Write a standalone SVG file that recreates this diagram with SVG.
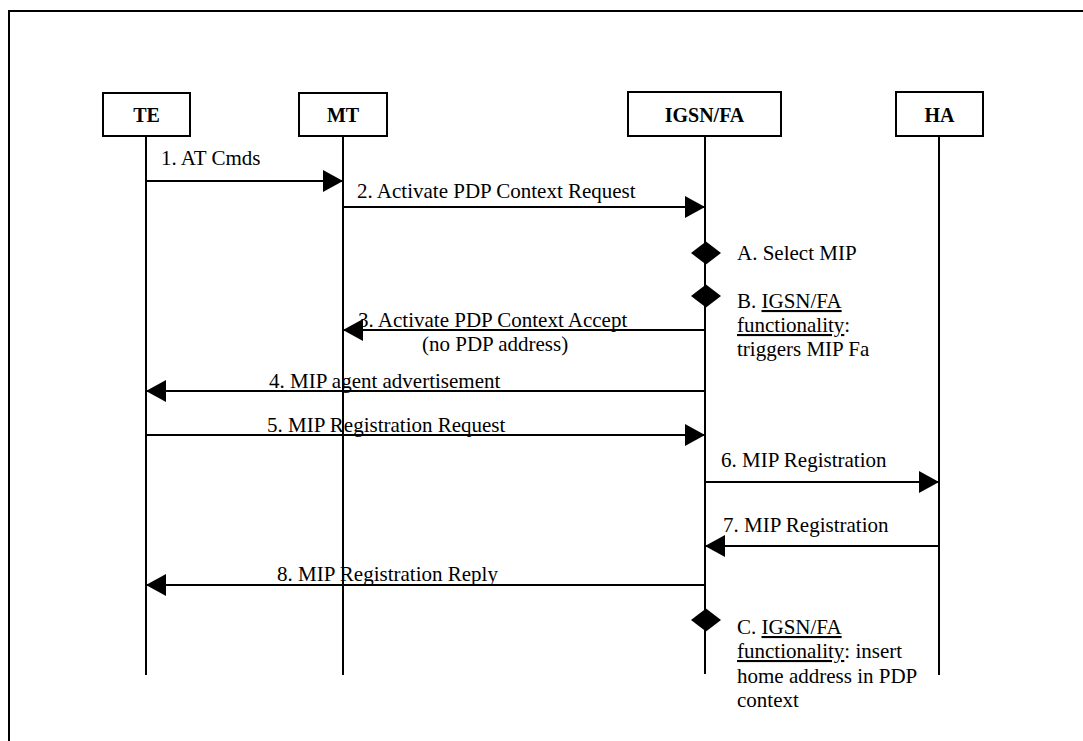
<svg xmlns="http://www.w3.org/2000/svg" width="1083" height="741" viewBox="0 0 1083 741">
  <style>
    .frame { fill: none; stroke: #000; stroke-width: 2; }
    .box { fill: #fff; stroke: #000; stroke-width: 2; }
    .life { stroke: #000; stroke-width: 2; fill: none; }
    .msg { stroke: #000; stroke-width: 2; fill: none; marker-end: url(#head); }
    text { font-family: 'Liberation Serif', Tinos, 'Times New Roman', Times, 'DejaVu Serif', serif; fill: #000; }
    .hdr { font-size: 20px; font-weight: bold; text-anchor: middle; }
    .lbl { font-size: 21px; }
    .u { text-decoration: underline; }
    .dia { fill: #000; }
  </style>
  <defs>
    <marker id="head" markerUnits="userSpaceOnUse" markerWidth="22" markerHeight="24" refX="20" refY="11" orient="auto">
      <path d="M0,0 L20,11 L0,22 Z" fill="#000"/>
    </marker>
  </defs>
  <rect width="1083" height="741" fill="#fff"/>

  <!-- outer frame (top and left edges) -->
  <path class="frame" d="M9,741 L9,11 L1083,11"/>

  <!-- participants -->
  <g id="node-te">
    <line class="life" x1="146" y1="136" x2="146" y2="675"/>
    <rect class="box" x="103" y="93" width="87" height="43"/>
    <text class="hdr" x="146.5" y="122">TE</text>
  </g>
  <g id="node-mt">
    <line class="life" x1="343" y1="136" x2="343" y2="675"/>
    <rect class="box" x="299" y="93" width="88" height="43"/>
    <text class="hdr" x="343" y="122">MT</text>
  </g>
  <g id="node-igsn">
    <line class="life" x1="705" y1="136" x2="705" y2="674"/>
    <rect class="box" x="628" y="92" width="153" height="44"/>
    <text class="hdr" x="704.5" y="122">IGSN/FA</text>
  </g>
  <g id="node-ha">
    <line class="life" x1="939" y1="136" x2="939" y2="675"/>
    <rect class="box" x="896" y="92" width="87" height="44"/>
    <text class="hdr" x="939.5" y="122">HA</text>
  </g>

  <!-- messages -->
  <g id="connectors">
    <line class="msg" x1="146" y1="181" x2="343" y2="181"/>
    <line class="msg" x1="343" y1="207" x2="705" y2="207"/>
    <line class="msg" x1="705" y1="330" x2="343" y2="330"/>
    <line class="msg" x1="705" y1="391" x2="146" y2="391"/>
    <line class="msg" x1="146" y1="435" x2="705" y2="435"/>
    <line class="msg" x1="705" y1="482" x2="939" y2="482"/>
    <line class="msg" x1="939" y1="546" x2="705" y2="546"/>
    <line class="msg" x1="705" y1="585" x2="146" y2="585"/>
  </g>

  <g id="labels">
    <text class="lbl" x="161" y="165">1. AT Cmds</text>
    <text class="lbl" x="357" y="198">2. Activate PDP Context Request</text>
    <text class="lbl" x="358" y="327">3. Activate PDP Context Accept</text>
    <text class="lbl" x="422" y="351">(no PDP address)</text>
    <text class="lbl" x="269" y="388">4. MIP agent advertisement</text>
    <text class="lbl" x="267" y="432">5. MIP Registration Request</text>
    <text class="lbl" x="721" y="467">6. MIP Registration</text>
    <text class="lbl" x="723" y="532">7. MIP Registration</text>
    <text class="lbl" x="277" y="581">8. MIP Registration Reply</text>
  </g>

  <!-- actions on the IGSN/FA lifeline -->
  <g id="step-a">
    <path class="dia" d="M706,241.5 L721,253 L706,264.5 L691,253 Z"/>
    <text class="lbl" x="737" y="260">A. Select MIP</text>
  </g>
  <g id="step-b">
    <path class="dia" d="M706,284.5 L721,296 L706,307.5 L691,296 Z"/>
    <text class="lbl" x="737" y="308">B. <tspan class="u">IGSN/FA</tspan></text>
    <text class="lbl" x="737" y="332"><tspan class="u">functionality</tspan>:</text>
    <text class="lbl" x="737" y="356">triggers MIP Fa</text>
  </g>
  <g id="step-c">
    <path class="dia" d="M706,608.5 L721,620 L706,631.5 L691,620 Z"/>
    <text class="lbl" x="737" y="634">C. <tspan class="u">IGSN/FA</tspan></text>
    <text class="lbl" x="737" y="658"><tspan class="u">functionality</tspan>: insert</text>
    <text class="lbl" x="737" y="683">home address in PDP</text>
    <text class="lbl" x="737" y="707">context</text>
  </g>
</svg>
